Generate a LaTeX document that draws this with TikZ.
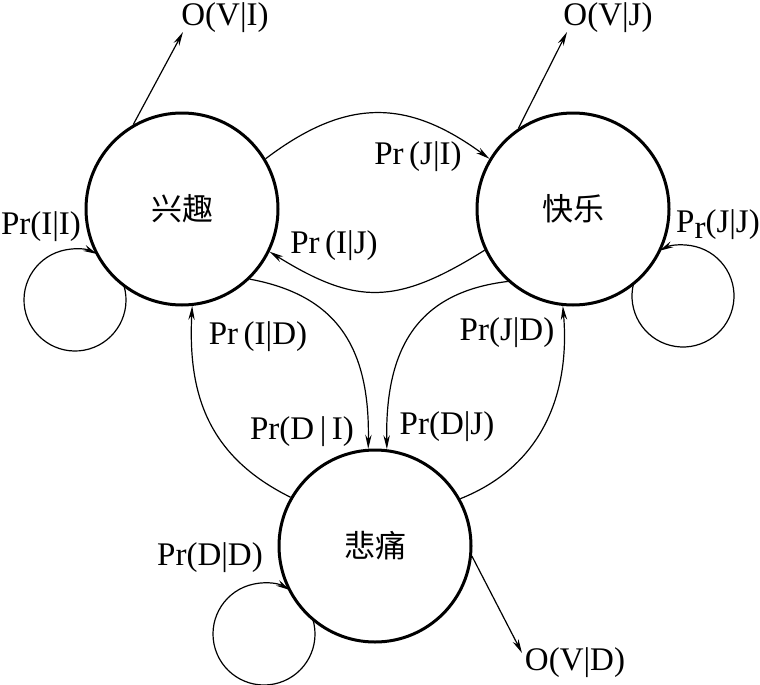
\documentclass[tikz,border=0pt]{standalone}
\usepackage{fontspec}
\setmainfont{Liberation Serif}
\newfontfamily\cjk{Noto Sans CJK SC}
\usetikzlibrary{arrows.meta,calc}
\begin{document}
\begin{tikzpicture}[x=0.5pt,y=0.5pt,
  state/.style={circle,draw,line width=1.5pt,minimum size=96pt,inner sep=0pt,font=\cjk\fontsize{15.5}{18}\selectfont},
  conn/.style={line width=0.6pt,-{Stealth[length=7pt,width=3.2pt]}},
  lbl/.style={font=\fontsize{16.5}{19}\selectfont,inner sep=0pt}]
\useasboundingbox (0,0) rectangle (760,-685);
% states
\node[state] (I) at (182,-209) {兴趣};
\node[state] (J) at (573,-209) {快乐};
\node[state] (D) at (375,-546) {悲痛};
% transitions
\draw[conn] (I.31.5) .. controls (347,-97) and (408,-99) .. (J.149.5);
\draw[conn] (J.205) .. controls (397,-305) and (357,-306) .. (I.-26);
\draw[conn] (I.-46.6) .. controls (335,-295) and (370,-345) .. (D.94);
\draw[conn] (D.150) .. controls (205,-455) and (188,-390) .. (I.-84);
\draw[conn] (J.228) .. controls (420,-292) and (385,-345) .. (D.83);
\draw[conn] (D.29) .. controls (545,-465) and (570,-390) .. (J.-96.5);
% self loops
\coordinate (SI) at (75,-300);
\coordinate (SJ) at (683,-296);
\coordinate (SD) at (264,-634);
\draw[conn] ([shift={(16.3:51)}]SI) arc[start angle=16.3,end angle=-295.6,radius=25.5pt];
\draw[conn] ([shift={(165.9:51)}]SJ) arc[start angle=165.9,end angle=477.5,radius=25.5pt];
\draw[conn] ([shift={(17.1:51)}]SD) arc[start angle=17.1,end angle=-300.3,radius=25.5pt];
% outputs
\coordinate (tI) at (183,-32);
\coordinate (tJ) at (567,-32);
\coordinate (tD) at (522,-653);
\draw[conn] (I.120) -- (tI);
\draw[conn] (J.124) -- (tJ);
\draw[conn] (D.-6.5) -- (tD);
% labels
\node[lbl] (lOI) at (225,-18) {O(V|I)};
\node[lbl] (lOJ) at (608,-18) {O(V|J)};
\node[lbl] (lOD) at (575,-663) {O(V|D)};
\node[lbl] (lJI) at (418,-157) {Pr\,(J|I)};
\node[lbl] (lIJ) at (334,-246) {Pr\,(I|J)};
\node[lbl] (lID) at (258,-337) {Pr\,(I|D)};
\node[lbl] (lDI) at (302,-432) {Pr(D\,|\,I)};
\node[lbl] (lDJ) at (447,-427) {Pr(D|J)};
\node[lbl] (lJD) at (507,-333) {Pr(J|D)};
\node[lbl] (lII) at (41,-227) {Pr(I|I)};
\node[lbl] (lJJ) at (718,-225) {P\raisebox{-0.18em}{r}(J|J)};
\node[lbl] (lDD) at (210,-558) {Pr(D|D)};
\end{tikzpicture}
\end{document}
